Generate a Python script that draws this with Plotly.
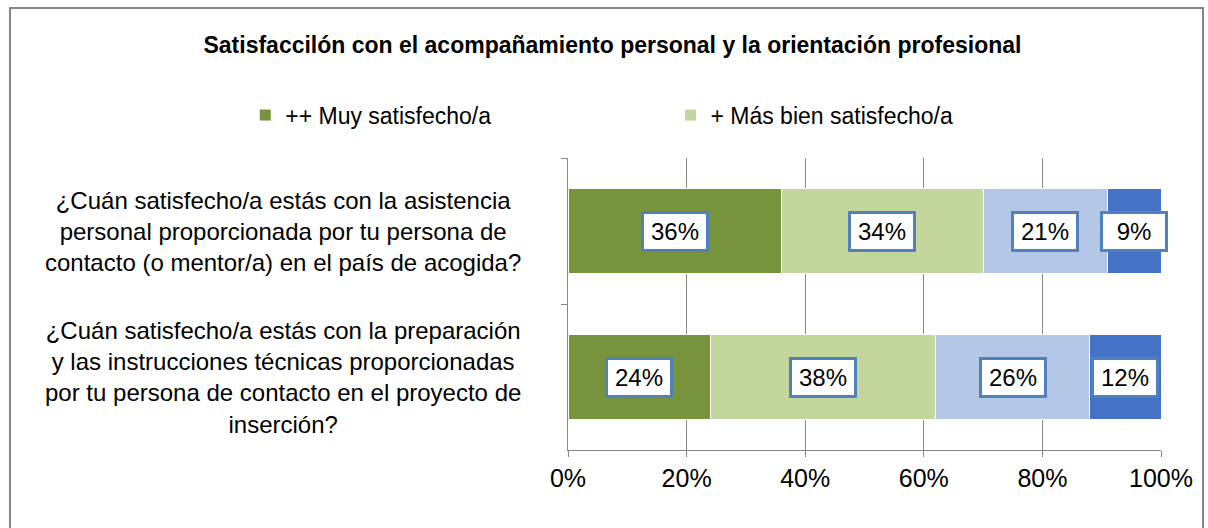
import plotly.graph_objects as go

categories = [
    "¿Cuán satisfecho/a estás con la asistencia<br>personal proporcionada por tu persona de<br>contacto (o mentor/a) en el país de acogida?",
    "¿Cuán satisfecho/a estás con la preparación<br>y las instrucciones técnicas proporcionadas<br>por tu persona de contacto en el proyecto de<br>inserción?",
]
series_names = ["++ Muy satisfecho/a", "+ Más bien satisfecho/a", "- Más bien insatisfecho/a", "-- Muy insatisfecho/a"]
muy_satisfecho = [36, 24]
mas_bien_satisfecho = [34, 38]
mas_bien_insatisfecho = [21, 26]
muy_insatisfecho = [9, 12]
colors = ["#77933C", "#C3D69B", "#B4C7E7", "#4472C4"]
legend_ids = ["legend", "legend2", None, None]
tick_vals = [0, 20, 40, 60, 80, 100]
tick_text = ["0%", "20%", "40%", "60%", "80%", "100%"]

series = [muy_satisfecho, mas_bien_satisfecho, mas_bien_insatisfecho, muy_insatisfecho]
FONT = "Liberation Sans, Arial, sans-serif"

fig = go.Figure()
for name, vals, col, lg in zip(series_names, series, colors, legend_ids):
    kw = dict(legend=lg, showlegend=True) if lg else dict(showlegend=False)
    fig.add_trace(go.Bar(
        y=categories, x=vals, name=name, orientation="h",
        marker=dict(color=col, line=dict(color="white", width=1)),
        **kw,
    ))

annotations = []
# data labels
for ci, cat in enumerate(categories):
    cum = 0
    for vals in series:
        v = vals[ci]
        annotations.append(dict(
            x=cum + v / 2, y=cat, xref="x", yref="y", text=f"{v}%", showarrow=False,
            font=dict(family=FONT, size=24, color="black"),
            bgcolor="white", bordercolor="#4F81BD", borderwidth=3, borderpad=2,
            width=58, height=31,
        ))
        cum += v
# category labels (centered multiline)
for cat in categories:
    annotations.append(dict(
        x=-0.48, y=cat, xref="paper", yref="y", text=cat, showarrow=False,
        xanchor="center", yanchor="middle", align="center",
        font=dict(family=FONT, size=24, color="black"),
    ))

legend_common = dict(
    orientation="h", xref="container", xanchor="left",
    y=0.782, yref="container", yanchor="middle",
    font=dict(family=FONT, size=23, color="black"),
    bgcolor="rgba(0,0,0,0)",
)

fig.update_layout(
    width=1208, height=528,
    margin=dict(l=568, r=47, t=158, b=78, autoexpand=False),
    paper_bgcolor="white", plot_bgcolor="white",
    barmode="stack", bargap=0.42,
    font=dict(family=FONT, size=22, color="black"),
    title=dict(
        text="<b>Satisfaccilón con el acompañamiento personal y la orientación profesional</b>",
        x=0.507, xref="container", xanchor="center", y=0.915, yref="container", yanchor="middle",
        font=dict(family=FONT, size=23, color="black"),
    ),
    legend=dict(x=0.203, **legend_common),
    legend2=dict(x=0.555, **legend_common),
    xaxis=dict(
        range=[0, 100], tickvals=tick_vals, ticktext=tick_text,
        showgrid=True, gridcolor="#868686", gridwidth=1,
        showline=True, linecolor="#868686", linewidth=1,
        ticks="outside", ticklen=6, tickcolor="#868686",
        tickfont=dict(family=FONT, size=25, color="black"),
        zeroline=False, fixedrange=True,
    ),
    yaxis=dict(
        autorange="reversed", showticklabels=False,
        showline=True, linecolor="#868686", linewidth=1,
        ticks="outside", ticklen=6, tickcolor="#868686", tickson="boundaries",
        showgrid=False, zeroline=False,
    ),
    annotations=annotations,
    shapes=[dict(type="rect", xref="paper", yref="paper",
                 x0=(10 - 568) / 593, x1=(1203 - 568) / 593,
                 y0=(528 - 600 - 78) / 292, y1=(528 - 8 - 78) / 292,
                 line=dict(color="#868686", width=2), fillcolor="rgba(0,0,0,0)", layer="below")],
)

fig.write_html(
    "out.html",
    config={"displayModeBar": False},
    post_script="document.body.style.margin='0';document.body.style.padding='0';document.body.style.overflow='hidden';",
)
